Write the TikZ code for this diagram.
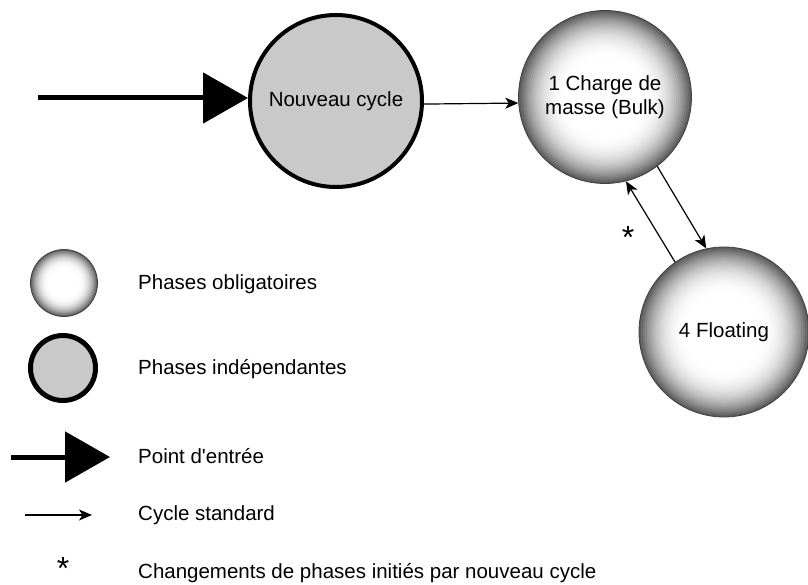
\documentclass[tikz,border=0pt]{standalone}
\usepackage{fontspec}
\setmainfont{Liberation Sans}[Ligatures=TeXOff]
\usetikzlibrary{arrows.meta}
\newcommand\gradball[2]{%
  \foreach \i in {0,...,45} {%
    \pgfmathsetmacro\tt{1-\i/45}%
    \pgfmathsetmacro\pp{(max(0,(\tt-0.42)/0.58))^2.4*64}%
    \fill[black!\pp] (#1) circle ({#2*\tt});
  }}
\tikzset{
  ball/.style={circle, draw=black!75, line width=0.8pt, inner sep=0pt, align=center, font=\fontsize{20.5}{24.5}\selectfont},
  indep/.style={circle, fill=black!21, draw=black, line width=4pt, inner sep=0pt, align=center, font=\fontsize{20.5}{24.5}\selectfont},
  lbl/.style={anchor=base west, inner sep=0pt, font=\fontsize{20.5}{24.5}\selectfont},
  starlbl/.style={inner sep=0pt, font=\fontsize{32}{32}\selectfont},
  std/.style={line width=1.2pt, -{Stealth[length=13pt,width=11pt,inset=3.5pt]}},
  entry/.style={line width=5pt, -{Triangle[length=45pt,width=50pt]}}
}
\begin{document}
\begin{tikzpicture}[x=1pt,y=-1pt]
\useasboundingbox (0,0) rectangle (808,585);
% centres of shaded balls
\coordinate (cb) at (605,97);
\coordinate (cf) at (724,332);
\coordinate (cl) at (64,283);
\gradball{cb}{86.5}
\gradball{cf}{85}
\gradball{cl}{33.5}
% main diagram
\node[indep, minimum size=172pt] (nc) at (336,101) {Nouveau cycle};
\node[ball, minimum size=173pt] (bulk) at (cb) {1 Charge de\\masse (Bulk)};
\node[ball, minimum size=170pt] (flt) at (cf) {4 Floating};
\coordinate (e0) at (38,98);
\draw[entry] (e0) -- (e0 -| nc.west);
\draw[std] (nc.-2.6) -- (bulk.184.6);
\draw[std] (bulk.-53.8) -- (flt.102);
\draw[std] (flt.125.5) -- (bulk.-76.9);
\node[starlbl] (s1) at (628,237) {*};
% legend
\node[ball, minimum size=67pt] (lb1) at (cl) {};
\node[indep, line width=5pt, minimum size=65pt] (lb2) at (63,368) {};
\coordinate (le0) at (11,457);
\coordinate (le1) at (110,457);
\draw[entry] (le0) -- (le1);
\coordinate (ls0) at (25,515);
\coordinate (ls1) at (92,515);
\draw[std] (ls0) -- (ls1);
\node[starlbl] (s2) at (63,568) {*};
\node[lbl] (t1) at (138,290) {Phases obligatoires};
\node[lbl] (t2) at (138,374) {Phases indépendantes};
\node[lbl] (t3) at (138,463) {Point d'entrée};
\node[lbl] (t4) at (138,520) {Cycle standard};
\node[lbl] (t5) at (138,578) {Changements de phases initiés par nouveau cycle};
\end{tikzpicture}
\end{document}
